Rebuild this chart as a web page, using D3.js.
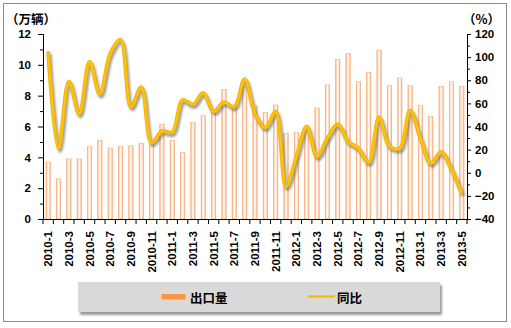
<!DOCTYPE html>
<html><head><meta charset="utf-8">
<script src="https://cdn.jsdelivr.net/npm/d3@7"></script>
<style>
body{margin:0;background:#fff;}
svg{display:block;}
text{font-family:"Liberation Sans",Arial,sans-serif;}
</style></head>
<body><svg id="c" width="511" height="328"></svg>
<script>
const categories = ["2010-1","2010-2","2010-3","2010-4","2010-5","2010-6","2010-7","2010-8","2010-9","2010-10","2010-11","2010-12",
"2011-1","2011-2","2011-3","2011-4","2011-5","2011-6","2011-7","2011-8","2011-9","2011-10","2011-11","2011-12",
"2012-1","2012-2","2012-3","2012-4","2012-5","2012-6","2012-7","2012-8","2012-9","2012-10","2012-11","2012-12",
"2013-1","2013-2","2013-3","2013-4","2013-5"];
const exportVolume = [3.7,2.6,3.9,3.9,4.7,5.1,4.6,4.7,4.75,4.9,4.8,6.15,
5.1,4.3,6.25,6.7,7.0,8.4,7.3,8.55,7.35,6.9,7.4,5.55,
5.6,5.95,7.2,8.7,10.35,10.75,8.9,9.5,10.95,8.65,9.15,8.65,
7.35,6.65,8.6,8.9,8.6];
const yoyGrowth = [105,21,79,51,96,68,103,115,57,74,26,36,
35,63,59,69,53,61,57,81,51,39,53,-12,
14,40,14,30,42,27,21,9,48,23,21,54,
30,8,18,3,-18];
const leftTicks = [0,2,4,6,8,10,12];
const rightTicks = [-40,-20,0,20,40,60,80,100,120];
const leftTitle = "（万辆）", rightTitle = "（%）";
const seriesNames = ["出口量","同比"];

const svg = d3.select("#c");
const defs = svg.append("defs");
const g1 = defs.append("linearGradient").attr("id","barg").attr("x1","0").attr("x2","1").attr("y1","0").attr("y2","0");
g1.append("stop").attr("offset","0%").attr("stop-color","#F7A267");
g1.append("stop").attr("offset","28%").attr("stop-color","#FDE5D2");
g1.append("stop").attr("offset","50%").attr("stop-color","#FFFFFF");
g1.append("stop").attr("offset","72%").attr("stop-color","#FDE5D2");
g1.append("stop").attr("offset","100%").attr("stop-color","#F7A267");
const blur = defs.append("filter").attr("id","blur").attr("x","-10%").attr("y","-10%").attr("width","120%").attr("height","120%");
blur.append("feGaussianBlur").attr("stdDeviation","1.2");
const ds = defs.append("filter").attr("id","ds").attr("x","-5%").attr("y","-20%").attr("width","115%").attr("height","160%");
ds.append("feDropShadow").attr("dx","2").attr("dy","3").attr("stdDeviation","1.2").attr("flood-color","#555").attr("flood-opacity","0.6");

// outer border
svg.append("rect").attr("x",3.5).attr("y",3.5).attr("width",503).attr("height",318)
  .attr("fill","#fff").attr("stroke","#8c8c8c").attr("stroke-width",1);

const x = d3.scaleBand().domain(categories).range([43,467]).padding(0);
const yL = d3.scaleLinear().domain([0,12]).range([219,34]);
const yR = d3.scaleLinear().domain([-40,120]).range([219,34]);

// bars
const bw = 4.4;
svg.append("g").selectAll("rect").data(exportVolume).join("rect")
  .attr("x",(d,i)=>x(categories[i])+x.bandwidth()/2-bw/2)
  .attr("y",d=>yL(d))
  .attr("width",bw)
  .attr("height",d=>yL(0)-yL(d))
  .attr("fill","url(#barg)")
  .attr("stroke","#F6AE7C").attr("stroke-width",0.6);

// line
const line = d3.line().x((d,i)=>x(categories[i])+x.bandwidth()/2).y(d=>yR(d)).curve(d3.curveCatmullRom.alpha(0.5));
svg.append("path").datum(yoyGrowth).attr("d",line).attr("fill","none")
  .attr("stroke","#5e5e5e").attr("stroke-opacity",0.6).attr("stroke-width",4).attr("transform","translate(1.5,2.5)").attr("filter","url(#blur)");
svg.append("path").datum(yoyGrowth).attr("d",line).attr("fill","none")
  .attr("stroke","#F0B400").attr("stroke-width",3.8).attr("stroke-linejoin","round");
svg.append("path").datum(yoyGrowth).attr("d",line).attr("fill","none")
  .attr("stroke","#FFC20E").attr("stroke-width",2).attr("stroke-linejoin","round");

// left axis
const axL = svg.append("g").attr("transform","translate(43,0)")
  .call(d3.axisLeft(yL).tickValues(leftTicks).tickSize(5).tickPadding(7).tickFormat(d3.format("d")));
svg.append("g").attr("transform","translate(43,0)")
  .call(d3.axisLeft(yL).tickValues(d3.range(1,12,2)).tickSize(3).tickFormat(""))
  .call(g=>g.select(".domain").remove());
// right axis
const axR = svg.append("g").attr("transform","translate(467,0)")
  .call(d3.axisRight(yR).tickValues(rightTicks).tickSize(4).tickPadding(5).tickFormat(d3.format("d")));
svg.append("g").attr("transform","translate(467,0)")
  .call(d3.axisRight(yR).tickValues(d3.range(-30,120,20)).tickSize(3).tickFormat(""))
  .call(g=>g.select(".domain").remove());
// bottom axis
const axB = svg.append("g").attr("transform","translate(0,219)")
  .call(d3.axisBottom(x).tickSize(0).tickFormat((d,i)=> i%2===0 ? d : ""));
axB.select(".domain").remove();
const bounds = categories.map(c=>x(c)).concat([x.range()[1]]);
svg.append("g").selectAll("line").data(bounds).join("line")
  .attr("x1",d=>d).attr("x2",d=>d).attr("y1",219).attr("y2",224).attr("stroke","#000").attr("stroke-width",1);
svg.append("line").attr("x1",43).attr("x2",467).attr("y1",219.5).attr("y2",219.5).attr("stroke","#000");
axB.selectAll(".tick text").attr("transform","rotate(-90)").attr("text-anchor","end")
  .attr("x",-12).attr("y",0).attr("dy","0.35em");

[axL,axR,axB].forEach(a=>{
  a.selectAll(".tick text").attr("font-size",11.5).attr("font-weight","bold").attr("fill","#000")
    .style("font-family","'Liberation Sans',Arial,sans-serif");
  a.selectAll("path.domain").attr("stroke","#000");
  a.selectAll(".tick line").attr("stroke","#000");
});
axR.selectAll(".tick text").attr("x",8);

// axis titles
svg.append("text").attr("x",6).attr("y",24).attr("font-size",12.5).attr("font-weight","bold")
  .style("font-family","'Noto Sans CJK SC',sans-serif").text(leftTitle);
svg.append("text").attr("x",463).attr("y",24).attr("font-size",12.5).attr("font-weight","bold")
  .style("font-family","'Noto Sans CJK SC',sans-serif").text(rightTitle);

// legend
svg.append("rect").attr("x",78).attr("y",282).attr("width",362).attr("height",30)
  .attr("fill","#D9D9D9").attr("filter","url(#ds)");
svg.append("rect").attr("x",161).attr("y",293.5).attr("width",25).attr("height",6.5)
  .attr("fill","#F79646").attr("stroke","#FBD3B5").attr("stroke-width",1);
svg.append("text").attr("x",190).attr("y",302.5).attr("font-size",12.5).attr("font-weight","bold")
  .style("font-family","'Noto Sans CJK SC',sans-serif").text(seriesNames[0]);
svg.append("line").attr("x1",308).attr("x2",335).attr("y1",296.5).attr("y2",296.5)
  .attr("stroke","#F5BA00").attr("stroke-width",2.2);
svg.append("text").attr("x",337).attr("y",302.5).attr("font-size",12.5).attr("font-weight","bold")
  .style("font-family","'Noto Sans CJK SC',sans-serif").text(seriesNames[1]);
</script></body></html>
